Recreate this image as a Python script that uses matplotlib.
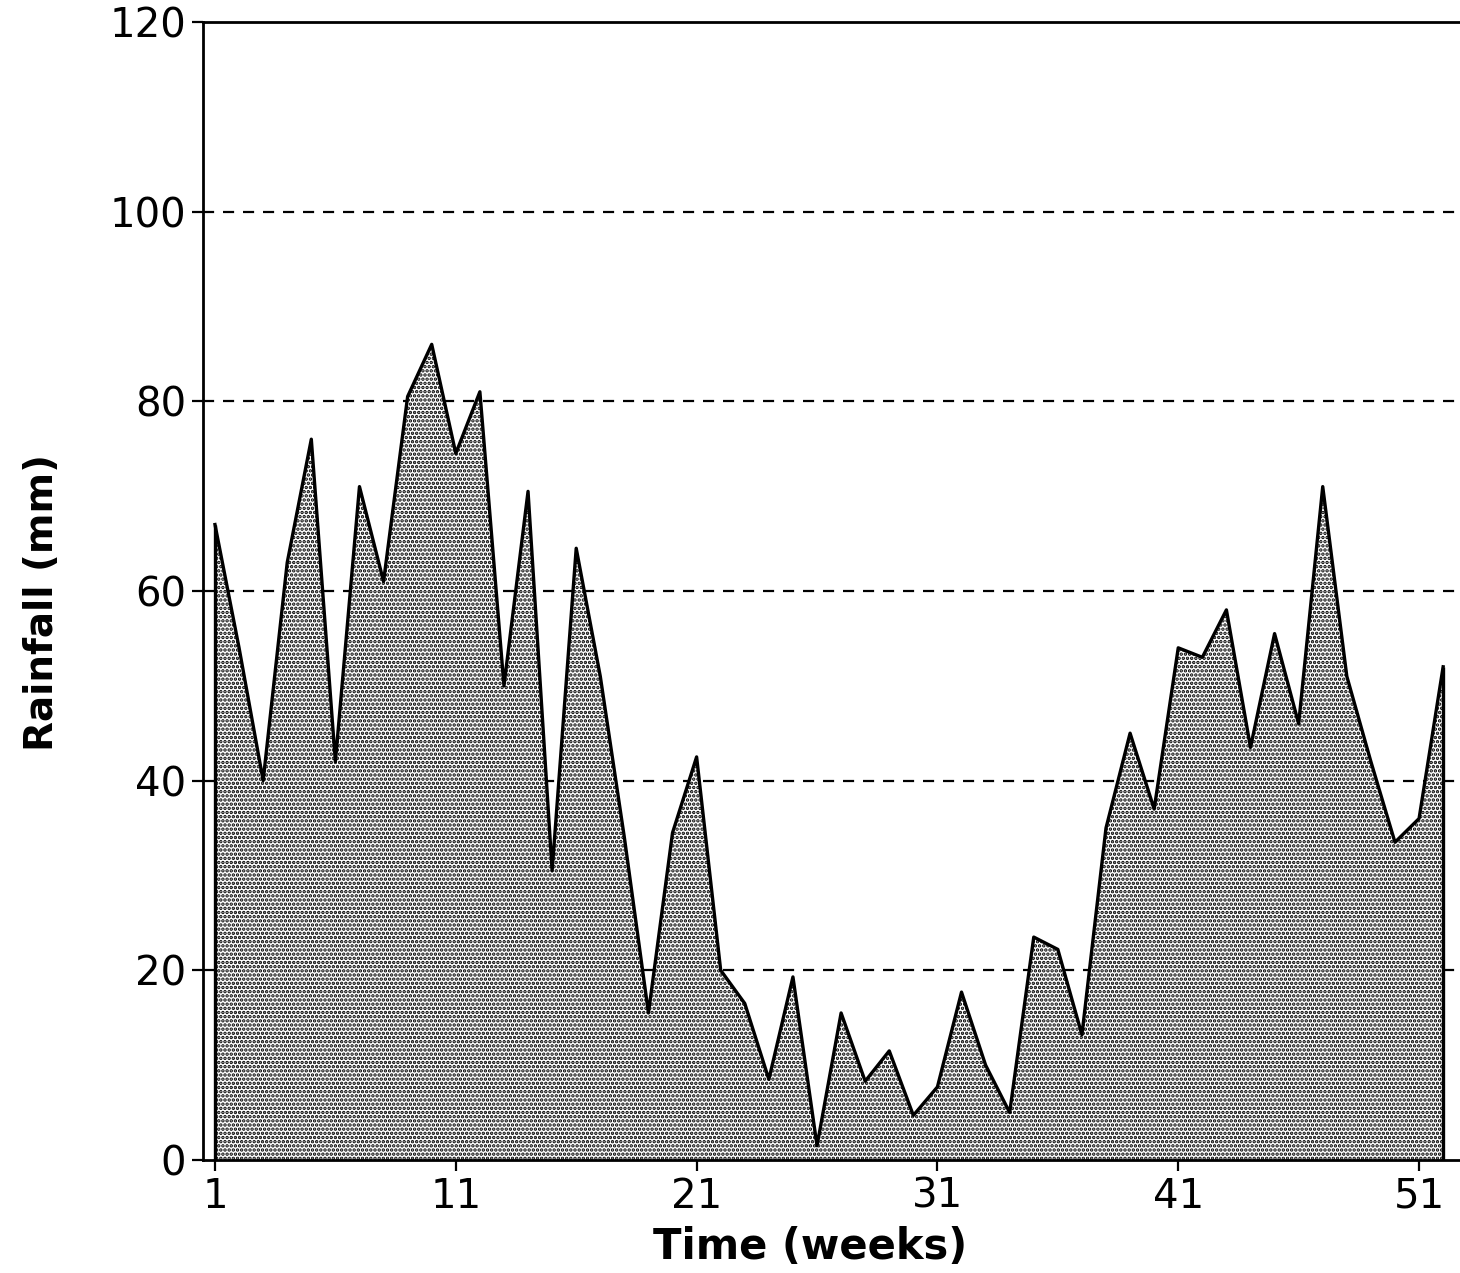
import numpy as np
import matplotlib
matplotlib.use("Agg")
import matplotlib.pyplot as plt

# Weekly rainfall
weeks = np.arange(1, 53)
rainfall = [67, 54, 40, 63, 76, 42, 71, 61, 80.5, 86,
            74.5, 81, 50, 70.5, 30.5, 64.5, 51, 34, 15.5, 34.5,
            42.5, 20, 16.5, 8.5, 19.3, 1.5, 15.5, 8.3, 11.5, 4.7,
            7.7, 17.7, 10, 5, 23.5, 22.2, 13.2, 35, 45, 37,
            54, 53, 58, 43.5, 55.5, 46, 71, 51, 42, 33.5,
            36, 52]
xticks = [1, 11, 21, 31, 41, 51]
yticks = [0, 20, 40, 60, 80, 100, 120]

plt.rcParams['hatch.linewidth'] = 1.7

fig = plt.figure(figsize=(14.6, 12.73), dpi=100)
ax = fig.add_axes([0.139, 0.0888, 0.861, 0.894])

# dashed grid lines sit behind the stippled area
for v in yticks[1:-1]:
    ax.axhline(v, color='black', lw=1.6, ls=(0, (5, 4)), zorder=1)

ax.fill_between(weeks, rainfall, 0, facecolor='white', edgecolor='black',
                hatch='....', linewidth=0, zorder=2)
ax.plot(weeks, rainfall, color='black', lw=2.4, zorder=3)
ax.vlines([weeks[0], weeks[-1]], 0, [rainfall[0], rainfall[-1]],
          color='black', lw=2.4, zorder=3)

ax.set_xlim(0.5, 52.7)
ax.set_ylim(0, 120)
ax.set_xticks(xticks)
ax.set_yticks(yticks)
ax.tick_params(axis='both', labelsize=29, width=1.6, length=8,
               direction='out', pad=4)

ax.spines['right'].set_visible(False)
for s in ['left', 'bottom', 'top']:
    ax.spines[s].set_linewidth(2)

ax.set_xlabel('Time (weeks)', fontsize=30, fontweight='bold')
ax.xaxis.set_label_coords(0.483, -0.058)
ax.set_ylabel('Rainfall (mm)', fontsize=28, fontweight='bold')
ax.yaxis.set_label_coords(-0.113, 0.49)

fig.savefig('out.png', dpi=100)
